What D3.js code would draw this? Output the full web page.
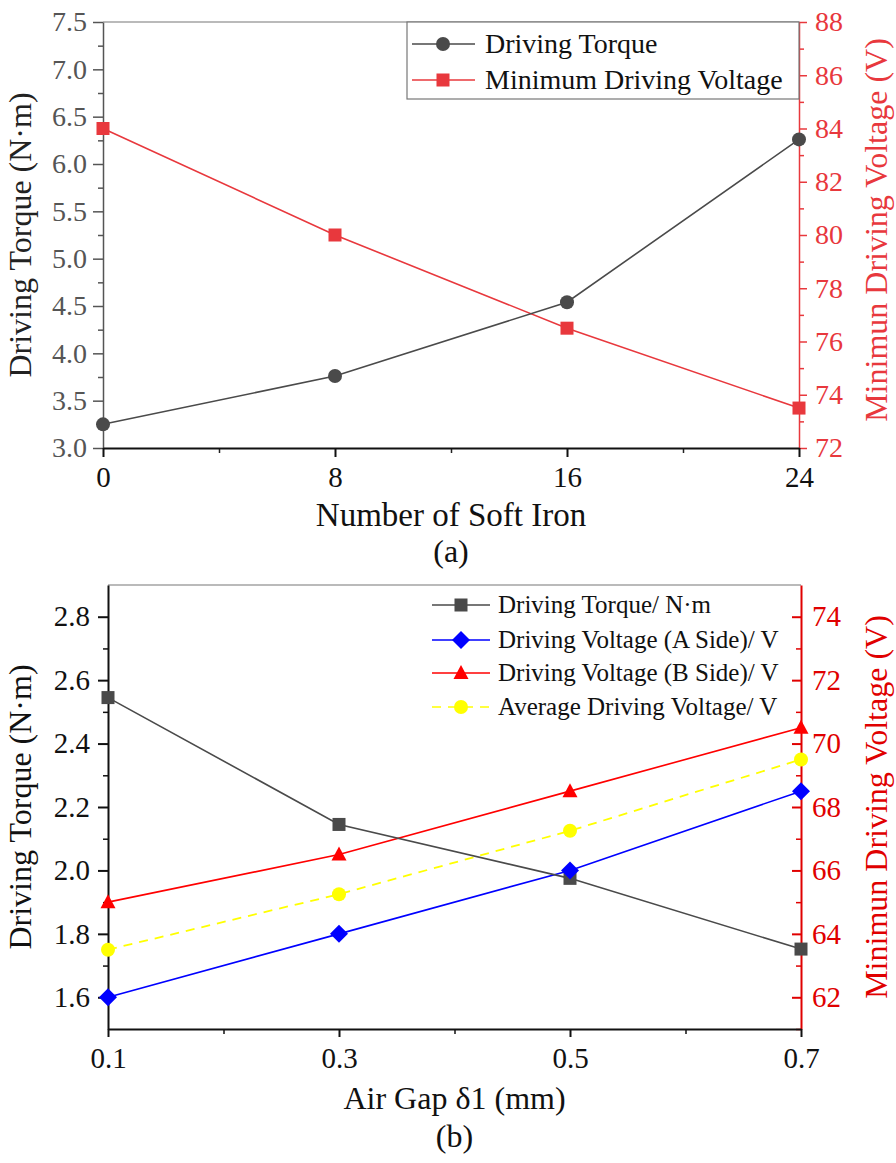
<!DOCTYPE html>
<html>
<head>
<meta charset="utf-8">
<script src="https://cdn.jsdelivr.net/npm/d3@7"></script>
<style>
html, body { margin: 0; padding: 0; background: #fff; }
svg, svg text { font-family: "Liberation Serif", "Times New Roman", serif !important; }
</style>
</head>
<body>
<svg id="chart" width="896" height="1163"></svg>
<script>
// ---------- Panel (a) data ----------
const softIron = [0, 8, 16, 24];
const torqueA = [3.25, 3.76, 4.54, 6.26];
const minVoltageA = [84, 80, 76.5, 73.5];
const aXTicks = [0, 8, 16, 24];
const aXMinor = [4, 12, 20];
const aLeftTicks = [3.0, 3.5, 4.0, 4.5, 5.0, 5.5, 6.0, 6.5, 7.0, 7.5];
const aLeftMinor = [3.25, 3.75, 4.25, 4.75, 5.25, 5.75, 6.25, 6.75, 7.25];
const aRightTicks = [72, 74, 76, 78, 80, 82, 84, 86, 88];
const aRightMinor = [73, 75, 77, 79, 81, 83, 85, 87];
const aLegend = ["Driving Torque", "Minimum Driving Voltage"];

// ---------- Panel (b) data ----------
const airGap = [0.1, 0.3, 0.5, 0.7];
const torqueB = [2.545, 2.145, 1.975, 1.752];
const voltSideA = [62, 64, 66, 68.5];
const voltSideB = [65, 66.5, 68.5, 70.5];
const voltAverage = [63.5, 65.25, 67.25, 69.5];
const bXTicks = [0.1, 0.3, 0.5, 0.7];
const bXMinor = [0.2, 0.4, 0.6];
const bLeftTicks = [1.6, 1.8, 2.0, 2.2, 2.4, 2.6, 2.8];
const bLeftMinor = [1.7, 1.9, 2.1, 2.3, 2.5, 2.7];
const bRightTicks = [62, 64, 66, 68, 70, 72, 74];
const bRightMinor = [61, 63, 65, 67, 69, 71, 73];
const bLegend = ["Driving Torque/ N\u00B7m", "Driving Voltage (A Side)/ V", "Driving Voltage (B Side)/ V", "Average Driving Voltage/ V"];

const svg = d3.select("#chart");
const FONT = "Liberation Serif";

function styleAxis(g, color, width, fsize) {
  g.attr("font-family", FONT);
  g.select(".domain").attr("stroke", color).attr("stroke-width", width);
  g.selectAll(".tick line").attr("stroke", color).attr("stroke-width", width);
  g.selectAll(".tick text").attr("fill", color).style("font-size", (fsize || 28) + "px");
}

function marker(g, type, x, y, color) {
  if (type === "circle") {
    g.append("circle").attr("cx", x).attr("cy", y).attr("r", 7).attr("fill", color);
  } else if (type === "square") {
    g.append("rect").attr("x", x - 6.5).attr("y", y - 6.5).attr("width", 13).attr("height", 13).attr("fill", color);
  } else if (type === "diamond") {
    g.append("path").attr("d", `M${x},${y-9}L${x+9},${y}L${x},${y+9}L${x-9},${y}Z`).attr("fill", color);
  } else if (type === "triangle") {
    g.append("path").attr("d", `M${x},${y-8}L${x+7.5},${y+6}L${x-7.5},${y+6}Z`).attr("fill", color);
  }
}

// ================= Panel (a) =================
(function () {
  const L = 103, R = 799, T = 22, B = 448;
  const x = d3.scaleLinear().domain([0, 24]).range([L, R]);
  const yL = d3.scaleLinear().domain([3.0, 7.5]).range([B, T]);
  const yR = d3.scaleLinear().domain([72, 88]).range([B, T]);
  const gray = "#4a4a4a", red = "#e8383d";

  const g = svg.append("g");
  g.append("line").attr("x1", L).attr("x2", R).attr("y1", T).attr("y2", T).attr("stroke", "#777").attr("stroke-width", 1.2);

  g.append("g").attr("transform", `translate(${L},0)`)
    .call(d3.axisLeft(yL).tickValues(aLeftMinor).tickSize(5).tickFormat("").tickSizeOuter(0))
    .call(a => { a.select(".domain").remove(); a.selectAll("line").attr("stroke", "#555").attr("stroke-width", 1.5); });
  g.append("g").attr("transform", `translate(${R},0)`)
    .call(d3.axisRight(yR).tickValues(aRightMinor).tickSize(5).tickFormat("").tickSizeOuter(0))
    .call(a => { a.select(".domain").remove(); a.selectAll("line").attr("stroke", red).attr("stroke-width", 1.5); });
  g.append("g").attr("transform", `translate(0,${B})`)
    .call(d3.axisBottom(x).tickValues(aXMinor).tickSize(5).tickFormat("").tickSizeOuter(0))
    .call(a => { a.select(".domain").remove(); a.selectAll("line").attr("stroke", "#222").attr("stroke-width", 1.5); });

  g.append("g").attr("transform", `translate(${L},0)`)
    .call(d3.axisLeft(yL).tickValues(aLeftTicks).tickSize(10).tickPadding(6).tickSizeOuter(0).tickFormat(d3.format(".1f")))
    .call(a => styleAxis(a, "#555", 1.5));
  g.append("g").attr("transform", `translate(${R},0)`)
    .call(d3.axisRight(yR).tickValues(aRightTicks).tickSize(8).tickPadding(8).tickSizeOuter(0))
    .call(a => styleAxis(a, red, 1.5));
  g.append("g").attr("transform", `translate(0,${B})`)
    .call(d3.axisBottom(x).tickValues(aXTicks).tickSize(9).tickPadding(9).tickSizeOuter(0))
    .call(a => styleAxis(a, "#111", 2, 29));

  const lineT = d3.line().x((d, i) => x(softIron[i])).y(d => yL(d));
  const lineV = d3.line().x((d, i) => x(softIron[i])).y(d => yR(d));
  g.append("path").attr("d", lineV(minVoltageA)).attr("fill", "none").attr("stroke", red).attr("stroke-width", 1.6);
  g.append("path").attr("d", lineT(torqueA)).attr("fill", "none").attr("stroke", gray).attr("stroke-width", 1.6);
  minVoltageA.forEach((d, i) => marker(g, "square", x(softIron[i]), yR(d), red));
  torqueA.forEach((d, i) => marker(g, "circle", x(softIron[i]), yL(d), gray));

  const lg = g.append("g");
  lg.append("rect").attr("x", 407).attr("y", T).attr("width", R - 407).attr("height", 77)
    .attr("fill", "#fff").attr("stroke", "#777").attr("stroke-width", 1.2);
  const rows = [{ c: gray, m: "circle", y: 44 }, { c: red, m: "square", y: 80 }];
  rows.forEach((r, i) => {
    lg.append("line").attr("x1", 412).attr("x2", 475).attr("y1", r.y).attr("y2", r.y).attr("stroke", r.c).attr("stroke-width", 1.6);
    marker(lg, r.m, 443, r.y, r.c);
    lg.append("text").attr("x", 485).attr("y", r.y + 9).text(aLegend[i])
      .style("font-size", "28px").attr("fill", "#111");
  });

  g.append("text").attr("transform", `translate(31,${(T + B) / 2}) rotate(-90)`).attr("text-anchor", "middle")
    .text("Driving Torque (N\u00B7m)").style("font-size", "32px").attr("fill", "#222");
  g.append("text").attr("transform", `translate(887,${(T + B) / 2 - 5}) rotate(-90)`).attr("text-anchor", "middle")
    .text("Minimun Driving Voltage (V)").style("font-size", "32px").attr("fill", red);
  g.append("text").attr("x", (L + R) / 2).attr("y", 526).attr("text-anchor", "middle")
    .text("Number of Soft Iron").style("font-size", "33px").attr("fill", "#111");
  g.append("text").attr("x", (L + R) / 2).attr("y", 562).attr("text-anchor", "middle")
    .text("(a)").style("font-size", "32px").attr("fill", "#111");
})();

// ================= Panel (b) =================
(function () {
  const L = 108, R = 801, T = 585, B = 1029;
  const x = d3.scaleLinear().domain([0.1, 0.7]).range([L, R]);
  const yL = d3.scaleLinear().domain([1.5, 2.9]).range([B, T]);
  const yR = d3.scaleLinear().domain([61, 75]).range([B, T]);
  const gray = "#4a4a4a", red = "#ff0000", axisRed = "#e00000", blue = "#0000ff", yellow = "#ffff00";

  const g = svg.append("g");
  g.append("line").attr("x1", L).attr("x2", R).attr("y1", T).attr("y2", T).attr("stroke", "#777").attr("stroke-width", 1.2);

  g.append("g").attr("transform", `translate(${L},0)`)
    .call(d3.axisLeft(yL).tickValues(bLeftMinor).tickSize(5).tickFormat("").tickSizeOuter(0))
    .call(a => { a.select(".domain").remove(); a.selectAll("line").attr("stroke", "#111").attr("stroke-width", 1.5); });
  g.append("g").attr("transform", `translate(${R},0)`)
    .call(d3.axisRight(yR).tickValues(bRightMinor).tickSize(-5).tickFormat("").tickSizeOuter(0))
    .call(a => { a.select(".domain").remove(); a.selectAll("line").attr("stroke", axisRed).attr("stroke-width", 1.5); });
  g.append("g").attr("transform", `translate(0,${B})`)
    .call(d3.axisBottom(x).tickValues(bXMinor).tickSize(5).tickFormat("").tickSizeOuter(0))
    .call(a => { a.select(".domain").remove(); a.selectAll("line").attr("stroke", "#111").attr("stroke-width", 1.5); });

  g.append("g").attr("transform", `translate(${L},0)`)
    .call(d3.axisLeft(yL).tickValues(bLeftTicks).tickSize(10).tickPadding(8).tickSizeOuter(0).tickFormat(d3.format(".1f")))
    .call(a => styleAxis(a, "#111", 2, 29));
  g.append("g").attr("transform", `translate(${R},0)`)
    .call(d3.axisRight(yR).tickValues(bRightTicks).tickSize(-9).tickPadding(11).tickSizeOuter(0))
    .call(a => styleAxis(a, axisRed, 2, 29));
  g.append("g").attr("transform", `translate(0,${B})`)
    .call(d3.axisBottom(x).tickValues(bXTicks).tickSize(8).tickPadding(10).tickSizeOuter(0).tickFormat(d3.format(".1f")))
    .call(a => styleAxis(a, "#111", 2, 29));

  const lineL = d3.line().x((d, i) => x(airGap[i])).y(d => yL(d));
  const lineR = d3.line().x((d, i) => x(airGap[i])).y(d => yR(d));

  g.append("path").attr("d", lineR(voltAverage)).attr("fill", "none").attr("stroke", yellow).attr("stroke-width", 1.8).attr("stroke-dasharray", "9,7");
  g.append("path").attr("d", lineR(voltSideB)).attr("fill", "none").attr("stroke", red).attr("stroke-width", 1.6);
  g.append("path").attr("d", lineR(voltSideA)).attr("fill", "none").attr("stroke", blue).attr("stroke-width", 1.6);
  g.append("path").attr("d", lineL(torqueB)).attr("fill", "none").attr("stroke", gray).attr("stroke-width", 1.6);
  voltAverage.forEach((d, i) => marker(g, "circle", x(airGap[i]), yR(d), yellow));
  voltSideB.forEach((d, i) => marker(g, "triangle", x(airGap[i]), yR(d), red));
  torqueB.forEach((d, i) => marker(g, "square", x(airGap[i]), yL(d), gray));
  voltSideA.forEach((d, i) => marker(g, "diamond", x(airGap[i]), yR(d), blue));

  const rows = [
    { c: gray, m: "square", y: 605, dash: null },
    { c: blue, m: "diamond", y: 640, dash: null },
    { c: red, m: "triangle", y: 673, dash: null },
    { c: yellow, m: "circle", y: 707, dash: "9,7" }
  ];
  rows.forEach((r, i) => {
    const ln = g.append("line").attr("x1", 432).attr("x2", 490).attr("y1", r.y).attr("y2", r.y).attr("stroke", r.c).attr("stroke-width", 1.6);
    if (r.dash) ln.attr("stroke-dasharray", r.dash);
    marker(g, r.m, 461, r.y, r.c);
    g.append("text").attr("x", 498).attr("y", r.y + 8).text(bLegend[i])
      .style("font-size", "25px").attr("fill", "#111");
  });

  g.append("text").attr("transform", `translate(31,${(T + B) / 2}) rotate(-90)`).attr("text-anchor", "middle")
    .text("Driving Torque (N\u00B7m)").style("font-size", "32px").attr("fill", "#111");
  g.append("text").attr("transform", `translate(887,${(T + B) / 2}) rotate(-90)`).attr("text-anchor", "middle")
    .text("Minimun Driving Voltage (V)").style("font-size", "32px").attr("fill", axisRed);
  g.append("text").attr("x", (L + R) / 2).attr("y", 1109).attr("text-anchor", "middle")
    .text("Air Gap \u03B41 (mm)").style("font-size", "32px").attr("fill", "#111");
  g.append("text").attr("x", (L + R) / 2).attr("y", 1147).attr("text-anchor", "middle")
    .text("(b)").style("font-size", "32px").attr("fill", "#111");
})();
</script>
</body>
</html>
